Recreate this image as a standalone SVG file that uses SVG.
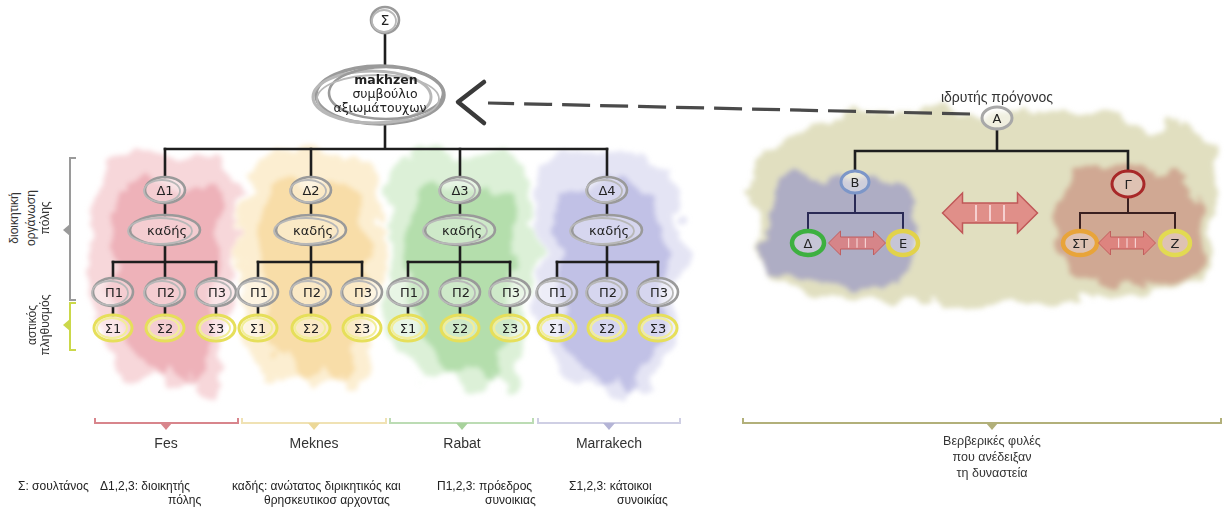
<svg xmlns="http://www.w3.org/2000/svg" width="1225" height="509" viewBox="0 0 1225 509">
<defs>
<style>
.bg{fill:#fff}
.t{font-family:"DejaVu Sans","Liberation Sans",sans-serif;font-size:13px;fill:#222;text-anchor:middle}
.tl{font-family:"Liberation Sans","DejaVu Sans",sans-serif;font-size:12px;fill:#222}
.tc{font-family:"Liberation Sans","DejaVu Sans",sans-serif;font-size:14px;fill:#333;text-anchor:middle}
.tv{font-family:"Liberation Sans","DejaVu Sans",sans-serif;font-size:12px;fill:#333;text-anchor:middle}
.fw{fill:#fff;fill-opacity:.35;stroke:none}
.r1{fill:none;stroke:#9a9a9a;stroke-width:2.6}
.r2{fill:none;stroke:#b8b8b8;stroke-width:1.8}
.y1{fill:none;stroke:#e6df5a;stroke-width:3}
.y2{fill:none;stroke:#f2ee9a;stroke-width:2}
.ln{fill:none;stroke:#1e1e1e;stroke-width:2.6;stroke-linecap:square}
.dash{fill:none;stroke:#4a4a4a;stroke-width:3.2;stroke-dasharray:28 10}
.arr{fill:#e07a7a;fill-opacity:.8;stroke:#c05858;stroke-width:1.5}
.div{stroke:#f6d0d0;stroke-width:2}
</style>
<filter id="wc" x="-30%" y="-30%" width="160%" height="160%">
<feTurbulence type="fractalNoise" baseFrequency="0.025" numOctaves="4" seed="7" result="n"/>
<feDisplacementMap in="SourceGraphic" in2="n" scale="38" xChannelSelector="R" yChannelSelector="G" result="d"/>
<feGaussianBlur in="d" stdDeviation="2.5"/>
</filter>
<path id="blobO" d="M -60 158 C -30 145, 30 150, 65 165 C 78 200, 72 250, 70 290 C 68 330, 60 360, 50 392 C 42 405, 32 395, 28 372 C 20 392, 8 402, -2 385 C -12 368, -22 398, -38 382 C -55 360, -72 330, -70 290 C -76 250, -72 200, -60 158 Z"/>
<path id="blobI" d="M -45 190 C -20 180, 25 182, 52 195 C 60 230, 57 280, 52 320 C 47 350, 42 370, 32 385 C 22 392, 14 380, 10 365 C 2 380, -8 385, -16 370 C -28 355, -48 330, -50 290 C -55 250, -55 215, -45 190 Z"/>
<g id="dblArrow">
<path class="arr" d="M -47.5 0 L -27.5 -20 L -27.5 -10 L 27.5 -10 L 27.5 -20 L 47.5 0 L 27.5 20 L 27.5 10 L -27.5 10 L -27.5 20 Z"/>
<path class="div" d="M -14 -8 V 8 M 0 -8 V 8 M 14 -8 V 8"/>
</g>
</defs>

<rect class="bg" width="1225" height="509"/>

<!-- watercolor backgrounds -->
<g id="backgrounds" filter="url(#wc)">
<use href="#blobO" transform="translate(165,0)" fill="#f3c6ca" fill-opacity=".7"/>
<use href="#blobI" transform="translate(165,0)" fill="#e8959f" fill-opacity=".55"/>
<use href="#blobO" transform="translate(311,0)" fill="#fbe7bd" fill-opacity=".7"/>
<use href="#blobI" transform="translate(311,0)" fill="#f5cf86" fill-opacity=".55"/>
<use href="#blobO" transform="translate(460,0)" fill="#cdeac6" fill-opacity=".7"/>
<use href="#blobI" transform="translate(460,0)" fill="#94d08a" fill-opacity=".55"/>
<use href="#blobO" transform="translate(607,0)" fill="#d9d9f0" fill-opacity=".7"/>
<use href="#blobI" transform="translate(607,0)" fill="#a6a6da" fill-opacity=".55"/>
<path d="M 760 150 C 820 112, 900 108, 1000 112 C 1080 104, 1170 118, 1210 142 C 1225 180, 1215 240, 1200 282 C 1150 302, 1050 296, 980 302 C 900 306, 820 300, 780 286 C 755 250, 745 190, 760 150 Z" fill="#cdca96" fill-opacity=".6"/>
<path d="M 772 182 C 800 166, 860 166, 905 186 C 920 220, 915 260, 900 282 C 860 288, 800 284, 772 272 C 757 240, 760 202, 772 182 Z" fill="#8c8cc6" fill-opacity=".6"/>
<path d="M 1065 176 C 1100 162, 1160 166, 1195 186 C 1210 220, 1205 260, 1190 282 C 1150 288, 1090 284, 1065 272 C 1050 240, 1052 200, 1065 176 Z" fill="#c48474" fill-opacity=".6"/>
</g>

<!-- connectors -->
<g id="connectors">
<path class="ln" d="M385 34 V66 M385 124 V149 M165 149 H607"/>
<path class="ln" d="M165 149 V177 M311 149 V177 M460 149 V177 M607 149 V177"/>
<path class="ln" d="M165 203 V215 M311 203 V215 M460 203 V215 M607 203 V215"/>
<path class="ln" d="M165 245 V278 M311 245 V278 M460 245 V278 M607 245 V278"/>
<path class="ln" d="M113 262 H216 M258 262 H362 M408 262 H510 M557 262 H658"/>
<path class="ln" d="M113 262 V278 M216 262 V278 M258 262 V278 M362 262 V278 M408 262 V278 M510 262 V278 M557 262 V278 M658 262 V278"/>
<path class="ln" d="M113 306 V315 M165 306 V315 M216 306 V315 M258 306 V315 M311 306 V315 M362 306 V315 M408 306 V315 M460 306 V315 M510 306 V315 M557 306 V315 M607 306 V315 M658 306 V315"/>
<path class="dash" d="M970 114 L488 103"/>
<path d="M484 82 L458 102 L484 123" fill="none" stroke="#3a3a3a" stroke-width="4.5" stroke-linecap="round" stroke-linejoin="round"/>
<path class="ln" d="M997 129 V151 M855 151 H1128 M855 151 V170 M1128 151 V171"/>
<path class="ln" style="stroke:#2a2a55;stroke-width:2" d="M855 193 V213 M808 213 H903 M808 213 V231 M903 213 V231"/>
<path class="ln" style="stroke:#3a2020;stroke-width:2" d="M1128 197 V213 M1080 213 H1175 M1080 213 V231 M1175 213 V231"/>
</g>

<!-- top nodes -->
<g id="n-sultan">
<ellipse class="fw" cx="385" cy="20" rx="14" ry="13"/>
<ellipse class="r1" cx="385" cy="20" rx="14" ry="13"/>
<ellipse class="r2" cx="384" cy="21" rx="12" ry="11"/>
<text class="t" x="385" y="25" style="font-size:14px">Σ</text>
</g>
<g id="n-makhzen">
<ellipse class="fw" cx="380" cy="95" rx="64" ry="29" style="fill-opacity:.8"/>
<ellipse class="r1" cx="380" cy="95" rx="64" ry="29" style="stroke-width:3.5"/>
<ellipse class="r2" cx="372" cy="97" rx="59" ry="26" style="stroke-width:3"/>
<ellipse class="r1" cx="386" cy="93" rx="57" ry="26"/>
<ellipse class="r2" cx="378" cy="99" rx="61" ry="24"/>
<text class="t" x="386" y="84" style="font-size:12.5px;font-weight:bold">makhzen</text>
<text class="t" x="385" y="98" style="font-size:12.5px">συμβούλιο</text>
<text class="t" x="380" y="112" style="font-size:12.5px">αξιωμάτουχων</text>
</g>

<!-- Fes column -->
<g id="n-fes-d1"><ellipse class="fw" cx="165" cy="190" rx="20" ry="13"/><ellipse class="r1" cx="165" cy="190" rx="20" ry="13"/><ellipse class="r2" cx="162" cy="191" rx="18" ry="11"/><text class="t" x="165" y="195">Δ1</text></g>
<g id="n-fes-kadis"><ellipse class="fw" cx="165" cy="230" rx="35" ry="15"/><ellipse class="r1" cx="165" cy="230" rx="35" ry="15"/><ellipse class="r2" cx="160" cy="231" rx="32" ry="13"/><text class="t" x="167" y="235">καδής</text></g>
<g id="n-fes-p1"><ellipse class="fw" cx="113" cy="292" rx="20" ry="14"/><ellipse class="r1" cx="113" cy="292" rx="20" ry="14"/><ellipse class="r2" cx="110" cy="293" rx="18" ry="12"/><text class="t" x="114" y="297">Π1</text></g>
<g id="n-fes-p2"><ellipse class="fw" cx="165" cy="292" rx="20" ry="14"/><ellipse class="r1" cx="165" cy="292" rx="20" ry="14"/><ellipse class="r2" cx="162" cy="293" rx="18" ry="12"/><text class="t" x="166" y="297">Π2</text></g>
<g id="n-fes-p3"><ellipse class="fw" cx="216" cy="292" rx="20" ry="14"/><ellipse class="r1" cx="216" cy="292" rx="20" ry="14"/><ellipse class="r2" cx="213" cy="293" rx="18" ry="12"/><text class="t" x="217" y="297">Π3</text></g>
<g id="n-fes-s1"><ellipse class="fw" cx="113" cy="328" rx="19" ry="13"/><ellipse class="y1" cx="113" cy="328" rx="19" ry="13"/><ellipse class="y2" cx="112" cy="328" rx="15" ry="10"/><text class="t" x="113" y="333">Σ1</text></g>
<g id="n-fes-s2"><ellipse class="fw" cx="165" cy="328" rx="19" ry="13"/><ellipse class="y1" cx="165" cy="328" rx="19" ry="13"/><ellipse class="y2" cx="164" cy="328" rx="15" ry="10"/><text class="t" x="165" y="333">Σ2</text></g>
<g id="n-fes-s3"><ellipse class="fw" cx="216" cy="328" rx="19" ry="13"/><ellipse class="y1" cx="216" cy="328" rx="19" ry="13"/><ellipse class="y2" cx="215" cy="328" rx="15" ry="10"/><text class="t" x="216" y="333">Σ3</text></g>

<!-- Meknes column -->
<g id="n-mek-d2"><ellipse class="fw" cx="311" cy="190" rx="20" ry="13"/><ellipse class="r1" cx="311" cy="190" rx="20" ry="13"/><ellipse class="r2" cx="308" cy="191" rx="18" ry="11"/><text class="t" x="311" y="195">Δ2</text></g>
<g id="n-mek-kadis"><ellipse class="fw" cx="311" cy="230" rx="35" ry="15"/><ellipse class="r1" cx="311" cy="230" rx="35" ry="15"/><ellipse class="r2" cx="306" cy="231" rx="32" ry="13"/><text class="t" x="313" y="235">καδής</text></g>
<g id="n-mek-p1"><ellipse class="fw" cx="258" cy="292" rx="20" ry="14"/><ellipse class="r1" cx="258" cy="292" rx="20" ry="14"/><ellipse class="r2" cx="255" cy="293" rx="18" ry="12"/><text class="t" x="259" y="297">Π1</text></g>
<g id="n-mek-p2"><ellipse class="fw" cx="311" cy="292" rx="20" ry="14"/><ellipse class="r1" cx="311" cy="292" rx="20" ry="14"/><ellipse class="r2" cx="308" cy="293" rx="18" ry="12"/><text class="t" x="312" y="297">Π2</text></g>
<g id="n-mek-p3"><ellipse class="fw" cx="362" cy="292" rx="20" ry="14"/><ellipse class="r1" cx="362" cy="292" rx="20" ry="14"/><ellipse class="r2" cx="359" cy="293" rx="18" ry="12"/><text class="t" x="363" y="297">Π3</text></g>
<g id="n-mek-s1"><ellipse class="fw" cx="258" cy="328" rx="19" ry="13"/><ellipse class="y1" cx="258" cy="328" rx="19" ry="13"/><ellipse class="y2" cx="257" cy="328" rx="15" ry="10"/><text class="t" x="258" y="333">Σ1</text></g>
<g id="n-mek-s2"><ellipse class="fw" cx="311" cy="328" rx="19" ry="13"/><ellipse class="y1" cx="311" cy="328" rx="19" ry="13"/><ellipse class="y2" cx="310" cy="328" rx="15" ry="10"/><text class="t" x="311" y="333">Σ2</text></g>
<g id="n-mek-s3"><ellipse class="fw" cx="362" cy="328" rx="19" ry="13"/><ellipse class="y1" cx="362" cy="328" rx="19" ry="13"/><ellipse class="y2" cx="361" cy="328" rx="15" ry="10"/><text class="t" x="362" y="333">Σ3</text></g>

<!-- Rabat column -->
<g id="n-rab-d3"><ellipse class="fw" cx="460" cy="190" rx="20" ry="13"/><ellipse class="r1" cx="460" cy="190" rx="20" ry="13"/><ellipse class="r2" cx="457" cy="191" rx="18" ry="11"/><text class="t" x="460" y="195">Δ3</text></g>
<g id="n-rab-kadis"><ellipse class="fw" cx="460" cy="230" rx="35" ry="15"/><ellipse class="r1" cx="460" cy="230" rx="35" ry="15"/><ellipse class="r2" cx="455" cy="231" rx="32" ry="13"/><text class="t" x="462" y="235">καδής</text></g>
<g id="n-rab-p1"><ellipse class="fw" cx="408" cy="292" rx="20" ry="14"/><ellipse class="r1" cx="408" cy="292" rx="20" ry="14"/><ellipse class="r2" cx="405" cy="293" rx="18" ry="12"/><text class="t" x="409" y="297">Π1</text></g>
<g id="n-rab-p2"><ellipse class="fw" cx="460" cy="292" rx="20" ry="14"/><ellipse class="r1" cx="460" cy="292" rx="20" ry="14"/><ellipse class="r2" cx="457" cy="293" rx="18" ry="12"/><text class="t" x="461" y="297">Π2</text></g>
<g id="n-rab-p3"><ellipse class="fw" cx="510" cy="292" rx="20" ry="14"/><ellipse class="r1" cx="510" cy="292" rx="20" ry="14"/><ellipse class="r2" cx="507" cy="293" rx="18" ry="12"/><text class="t" x="511" y="297">Π3</text></g>
<g id="n-rab-s1"><ellipse class="fw" cx="408" cy="328" rx="19" ry="13"/><ellipse class="y1" cx="408" cy="328" rx="19" ry="13"/><ellipse class="y2" cx="407" cy="328" rx="15" ry="10"/><text class="t" x="408" y="333">Σ1</text></g>
<g id="n-rab-s2"><ellipse class="fw" cx="460" cy="328" rx="19" ry="13"/><ellipse class="y1" cx="460" cy="328" rx="19" ry="13"/><ellipse class="y2" cx="459" cy="328" rx="15" ry="10"/><text class="t" x="460" y="333">Σ2</text></g>
<g id="n-rab-s3"><ellipse class="fw" cx="510" cy="328" rx="19" ry="13"/><ellipse class="y1" cx="510" cy="328" rx="19" ry="13"/><ellipse class="y2" cx="509" cy="328" rx="15" ry="10"/><text class="t" x="510" y="333">Σ3</text></g>

<!-- Marrakech column -->
<g id="n-mar-d4"><ellipse class="fw" cx="607" cy="190" rx="20" ry="13"/><ellipse class="r1" cx="607" cy="190" rx="20" ry="13"/><ellipse class="r2" cx="604" cy="191" rx="18" ry="11"/><text class="t" x="607" y="195">Δ4</text></g>
<g id="n-mar-kadis"><ellipse class="fw" cx="607" cy="230" rx="35" ry="15"/><ellipse class="r1" cx="607" cy="230" rx="35" ry="15"/><ellipse class="r2" cx="602" cy="231" rx="32" ry="13"/><text class="t" x="609" y="235">καδής</text></g>
<g id="n-mar-p1"><ellipse class="fw" cx="557" cy="292" rx="20" ry="14"/><ellipse class="r1" cx="557" cy="292" rx="20" ry="14"/><ellipse class="r2" cx="554" cy="293" rx="18" ry="12"/><text class="t" x="558" y="297">Π1</text></g>
<g id="n-mar-p2"><ellipse class="fw" cx="607" cy="292" rx="20" ry="14"/><ellipse class="r1" cx="607" cy="292" rx="20" ry="14"/><ellipse class="r2" cx="604" cy="293" rx="18" ry="12"/><text class="t" x="608" y="297">Π2</text></g>
<g id="n-mar-p3"><ellipse class="fw" cx="658" cy="292" rx="20" ry="14"/><ellipse class="r1" cx="658" cy="292" rx="20" ry="14"/><ellipse class="r2" cx="655" cy="293" rx="18" ry="12"/><text class="t" x="659" y="297">Π3</text></g>
<g id="n-mar-s1"><ellipse class="fw" cx="557" cy="328" rx="19" ry="13"/><ellipse class="y1" cx="557" cy="328" rx="19" ry="13"/><ellipse class="y2" cx="556" cy="328" rx="15" ry="10"/><text class="t" x="557" y="333">Σ1</text></g>
<g id="n-mar-s2"><ellipse class="fw" cx="607" cy="328" rx="19" ry="13"/><ellipse class="y1" cx="607" cy="328" rx="19" ry="13"/><ellipse class="y2" cx="606" cy="328" rx="15" ry="10"/><text class="t" x="607" y="333">Σ2</text></g>
<g id="n-mar-s3"><ellipse class="fw" cx="658" cy="328" rx="19" ry="13"/><ellipse class="y1" cx="658" cy="328" rx="19" ry="13"/><ellipse class="y2" cx="657" cy="328" rx="15" ry="10"/><text class="t" x="658" y="333">Σ3</text></g>

<!-- right side: tribes -->
<g id="n-founder">
<text class="tc" x="997" y="102">ιδρυτής πρόγονος</text>
<ellipse cx="997" cy="118" rx="15" ry="11" fill="#fff" fill-opacity=".5" stroke="#a8a8a8" stroke-width="3"/>
<text class="t" x="997" y="123">Α</text>
</g>
<g id="n-B"><ellipse cx="855" cy="182" rx="14" ry="11" fill="#fff" fill-opacity=".4" stroke="#7c96c8" stroke-width="3"/><text class="t" x="855" y="187">Β</text></g>
<g id="n-G"><ellipse cx="1128" cy="184" rx="16" ry="13" fill="#fff" fill-opacity=".3" stroke="#a82828" stroke-width="3"/><text class="t" x="1128" y="189">Γ</text></g>
<g id="n-D"><ellipse cx="808" cy="243" rx="16" ry="12" fill="#fff" fill-opacity=".3" stroke="#3db040" stroke-width="4.5"/><text class="t" x="808" y="248">Δ</text></g>
<g id="n-E"><ellipse cx="903" cy="243" rx="15" ry="12" fill="#fff" fill-opacity=".3" stroke="#e2d24a" stroke-width="4.5"/><text class="t" x="903" y="248">Ε</text></g>
<g id="n-ST"><ellipse cx="1080" cy="243" rx="17" ry="12" fill="#fff" fill-opacity=".3" stroke="#e8a43a" stroke-width="4.5"/><text class="t" x="1080" y="248">ΣΤ</text></g>
<g id="n-Z"><ellipse cx="1175" cy="243" rx="15" ry="12" fill="#fff" fill-opacity=".3" stroke="#e2da52" stroke-width="4.5"/><text class="t" x="1175" y="248">Ζ</text></g>
<g id="rivalry">
<use href="#dblArrow" transform="translate(990,213)"/>
<use href="#dblArrow" transform="translate(857,243) scale(0.6)"/>
<use href="#dblArrow" transform="translate(1127,243) scale(0.6)"/>
</g>

<!-- left vertical brackets and labels -->
<g id="side-admin">
<path d="M76 158 H70 V300 H76" fill="none" stroke="#9a9a9a" stroke-width="2"/>
<polygon points="70,224 70,236 63,230" fill="#9a9a9a"/>
<text class="tv" transform="translate(18,218) rotate(-90)">διοικητική</text>
<text class="tv" transform="translate(35,218) rotate(-90)">οργάνωση</text>
<text class="tv" transform="translate(49,218) rotate(-90)">πόλης</text>
</g>
<g id="side-pop">
<path d="M76 303 H70 V350 H76" fill="none" stroke="#cbd84a" stroke-width="2"/>
<polygon points="70,319 70,331 63,325" fill="#cbd84a"/>
<text class="tv" transform="translate(36,325) rotate(-90)">αστικός</text>
<text class="tv" transform="translate(49,325) rotate(-90)">πληθυσμός</text>
</g>

<!-- bottom brackets -->
<g id="cities">
<path d="M95 418 V423 H238 V418" fill="none" stroke="#d8858c" stroke-width="2"/>
<polygon points="160,423 172,423 166,430" fill="#d8858c"/>
<text class="tc" x="166" y="448">Fes</text>
<path d="M242 418 V423 H386 V418" fill="none" stroke="#f0e2b4" stroke-width="2"/>
<polygon points="308,423 320,423 314,430" fill="#ecd898"/>
<text class="tc" x="314" y="448">Meknes</text>
<path d="M390 418 V423 H533 V418" fill="none" stroke="#bcdcb4" stroke-width="2"/>
<polygon points="456,423 468,423 462,430" fill="#a8d29c"/>
<text class="tc" x="462" y="448">Rabat</text>
<path d="M538 418 V423 H680 V418" fill="none" stroke="#cfcfe4" stroke-width="2"/>
<polygon points="603,423 615,423 609,430" fill="#b4b4d6"/>
<text class="tc" x="609" y="448">Marrakech</text>
</g>
<g id="tribes-label">
<path d="M743 418 V423 H1221 V418" fill="none" stroke="#b2b07a" stroke-width="2"/>
<polygon points="986,423 998,423 992,430" fill="#b2b07a"/>
<text class="tc" x="992" y="445" style="font-size:12.5px">Βερβερικές φυλές</text>
<text class="tc" x="992" y="461" style="font-size:12.5px">που ανέδειξαν</text>
<text class="tc" x="992" y="477" style="font-size:12.5px">τη δυναστεία</text>
</g>

<!-- legend -->
<g id="legend">
<text class="tl" x="18" y="490">Σ: σουλτάνος</text>
<text class="tl" x="100" y="490">Δ1,2,3: διοικητής</text>
<text class="tl" x="168" y="504">πόλης</text>
<text class="tl" x="232" y="490">καδής: ανώτατος διρικητικός και</text>
<text class="tl" x="264" y="504">θρησκευτικοσ αρχοντας</text>
<text class="tl" x="437" y="490">Π1,2,3: πρόεδρος</text>
<text class="tl" x="485" y="504">συνοικιας</text>
<text class="tl" x="569" y="490">Σ1,2,3: κάτοικοι</text>
<text class="tl" x="617" y="504">συνοικίας</text>
</g>
</svg>
